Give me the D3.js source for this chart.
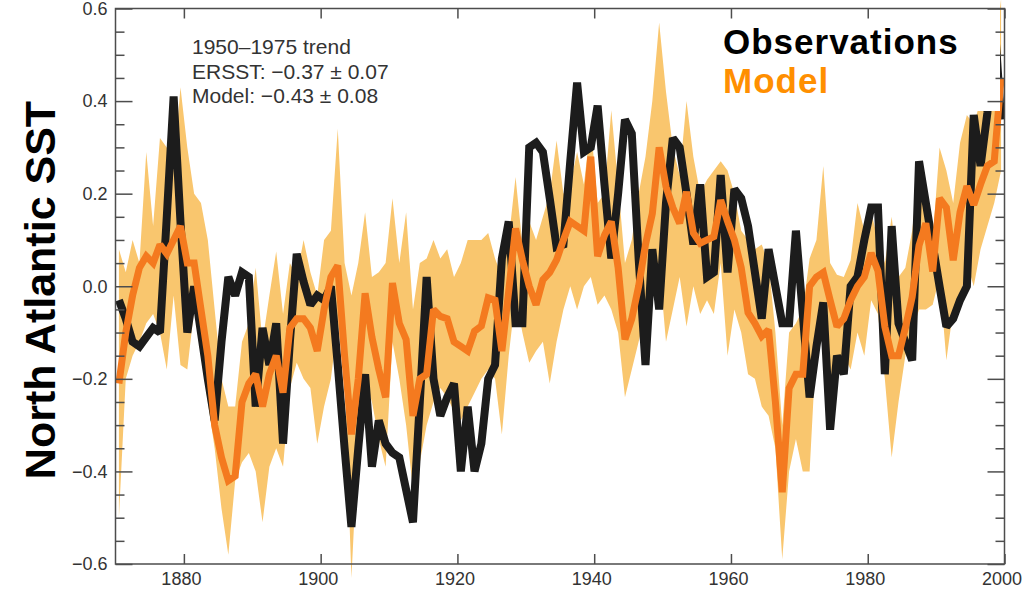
<!DOCTYPE html>
<html>
<head>
<meta charset="utf-8">
<script src="https://cdn.jsdelivr.net/npm/d3@7"></script>
<style>
  html, body { margin: 0; padding: 0; background: #fff; }
  svg { display: block; font-family: "Liberation Sans", Arial, Helvetica, sans-serif; }
</style>
</head>
<body>
<svg id="chart" width="1023" height="594"></svg>
<script>
// Annual North Atlantic SST anomalies, 1870-1999
const years = d3.range(1870, 2000);

// ERSST observations
const observed = [
  -0.03, -0.07, -0.12, -0.13, -0.11, -0.09, -0.10, 0.15, 0.41, 0.14,
  -0.10, 0.00, -0.10, -0.20, -0.29, -0.12, 0.02, -0.02, 0.03, 0.02,
  -0.26, -0.09, -0.17, -0.08, -0.34, -0.12, 0.07, 0.01, -0.04, -0.02,
  -0.03, 0.00, -0.17, -0.35, -0.52, -0.35, -0.19, -0.39, -0.29, -0.34,
  -0.36, -0.37, -0.44, -0.51, -0.25, 0.02, -0.20, -0.28, -0.24, -0.21,
  -0.40, -0.26, -0.40, -0.34, -0.20, -0.17, 0.06, 0.14, -0.08, -0.08,
  0.30, 0.31, 0.29, 0.19, 0.085, 0.09, 0.27, 0.44, 0.29, 0.30,
  0.39, 0.22, 0.06, 0.20, 0.36, 0.33, 0.06, -0.17, 0.08, -0.05,
  0.18, 0.32, 0.30, 0.20, 0.09, 0.22, 0.02, 0.03, 0.24, 0.03,
  0.21, 0.19, 0.13, 0.03, -0.07, 0.08, 0.00, -0.08, -0.08, 0.12,
  -0.06, -0.24, -0.13, -0.035, -0.31, -0.15, -0.19, 0.00, 0.02, 0.10,
  0.17, 0.17, -0.19, 0.13, -0.08, -0.12, -0.16, 0.27, 0.18, 0.09,
  0.00, -0.087, -0.07, -0.03, 0.00, 0.37, 0.26, 0.375, 0.58, 0.36
];

// Model ensemble mean
const modelMean = [
  -0.21, -0.10, -0.02, 0.04, 0.065, 0.05, 0.09, 0.07, 0.10, 0.13,
  0.05, 0.05, -0.05, -0.15, -0.30, -0.37, -0.42, -0.41, -0.25, -0.21,
  -0.19, -0.26, -0.19, -0.15, -0.23, -0.09, -0.07, -0.07, -0.09, -0.14,
  -0.05, 0.02, 0.045, -0.15, -0.32, -0.20, -0.015, -0.11, -0.18, -0.24,
  0.007, -0.08, -0.115, -0.28, -0.20, -0.19, -0.05, -0.065, -0.07, -0.12,
  -0.13, -0.14, -0.097, -0.086, -0.025, -0.03, -0.14, -0.01, 0.125, 0.057,
  0.00, -0.04, 0.014, 0.03, 0.057, 0.10, 0.14, 0.13, 0.12, 0.28,
  0.065, 0.11, 0.14, 0.04, -0.115, -0.07, 0.00, 0.09, 0.157, 0.30,
  0.215, 0.17, 0.136, 0.204, 0.115, 0.093, 0.10, 0.107, 0.186, 0.14,
  0.10, 0.04, -0.057, -0.08, -0.108, -0.094, -0.25, -0.445, -0.22, -0.19,
  -0.19, 0.00, 0.02, 0.03, -0.03, -0.087, -0.07, -0.03, 0.00, 0.02,
  0.072, 0.033, -0.087, -0.15, -0.15, -0.09, -0.023, 0.088, 0.136, 0.032,
  0.19, 0.17, 0.056, 0.16, 0.216, 0.176, 0.22, 0.26, 0.27, 0.45
];

// Model ensemble spread (upper and lower bounds)
const modelHigh = [
  0.08, 0.03, 0.10, 0.05, 0.29, 0.13, 0.32, 0.30, 0.25, 0.43,
  0.30, 0.20, 0.18, 0.10, -0.05, -0.20, -0.26, -0.26, -0.12, -0.08,
  0.04, -0.12, -0.02, 0.075, -0.06, 0.05, 0.02, 0.10, 0.03, -0.02,
  0.10, 0.12, 0.34, 0.05, -0.02, 0.05, 0.16, 0.02, 0.03, 0.05,
  0.19, 0.05, 0.16, -0.05, 0.05, 0.06, 0.10, 0.06, 0.08, 0.02,
  0.05, 0.10, 0.10, 0.10, 0.115, 0.06, 0.02, 0.10, 0.236, 0.09,
  0.14, 0.10, 0.15, 0.20, 0.315, 0.20, 0.22, 0.29, 0.22, 0.35,
  0.18, 0.20, 0.38, 0.22, 0.05, 0.10, 0.20, 0.28, 0.40, 0.57,
  0.42, 0.30, 0.24, 0.40, 0.28, 0.20, 0.23, 0.25, 0.27, 0.25,
  0.20, 0.12, 0.10, 0.08, 0.09, 0.05, -0.10, -0.30, -0.10, -0.08,
  -0.05, 0.06, 0.10, 0.26, 0.05, 0.025, 0.02, 0.056, 0.18, 0.12,
  0.16, 0.10, 0.05, 0.15, 0.02, 0.04, 0.12, 0.255, 0.22, 0.10,
  0.30, 0.25, 0.18, 0.31, 0.37, 0.35, 0.40, 0.45, 0.50, 0.62
];
const modelLow = [
  -0.50, -0.20, -0.15, -0.12, -0.08, -0.06, -0.10, -0.18, -0.02, -0.17,
  -0.18, -0.05, -0.15, -0.25, -0.35, -0.48, -0.58, -0.42, -0.38, -0.36,
  -0.40, -0.51, -0.39, -0.35, -0.39, -0.22, -0.165, -0.20, -0.22, -0.34,
  -0.26, -0.20, -0.08, -0.20, -0.63, -0.33, -0.20, -0.25, -0.33, -0.39,
  -0.12, -0.20, -0.30, -0.44, -0.38, -0.30, -0.25, -0.22, -0.24, -0.27,
  -0.29, -0.26, -0.23, -0.20, -0.18, -0.20, -0.32, -0.15, -0.02, -0.10,
  -0.165, -0.14, -0.12, -0.21, -0.12, -0.05, 0.00, -0.05, 0.00, 0.02,
  -0.04, -0.02, -0.05, -0.10, -0.24, -0.18, -0.12, -0.06, 0.02, 0.05,
  -0.12, -0.05, 0.02, -0.087, 0.00, -0.06, -0.03, -0.06, 0.05, -0.15,
  -0.05, -0.10, -0.19, -0.20, -0.26, -0.28, -0.35, -0.59, -0.40, -0.33,
  -0.40, -0.40, -0.12, -0.10, -0.23, -0.20, -0.15, -0.18, -0.10, -0.15,
  -0.03, -0.06, -0.20, -0.37, -0.25, -0.15, -0.10, -0.05, -0.05, -0.04,
  0.02, -0.16, -0.05, -0.03, 0.05, 0.00, 0.08, 0.13, 0.18, 0.25
];

// Axis ticks
const xTickYears = [1880, 1900, 1920, 1940, 1960, 1980, 2000];
const yMajorTicks = [-0.6, -0.4, -0.2, 0.0, 0.2, 0.4, 0.6];
const yMinorTicks = [-0.55, -0.5, -0.45, -0.35, -0.3, -0.25, -0.15, -0.1, -0.05,
                     0.05, 0.1, 0.15, 0.25, 0.3, 0.35, 0.45, 0.5, 0.55];

// Text
const yTitle = "North Atlantic SST";
const noteLines = ["1950\u20131975 trend", "ERSST: \u22120.37 \u00b1 0.07", "Model: \u22120.43 \u00b1 0.08"];
const legendItems = [
  { label: "Observations", color: "#000000" },
  { label: "Model", color: "#ff8f00" }
];

const colors = { band: "#f9c66e", model: "#f47a1f", obs: "#1c1c1c", frame: "#4d4d4d", text: "#333333" };

const svg = d3.select("#chart");
const plotLeft = 115.5, plotRight = 1004.5, plotTop = 8.5, plotBottom = 564;

const x = d3.scaleLinear().domain([1870, 2000]).range([plotLeft, plotRight]);
const y = d3.scaleLinear().domain([-0.6, 0.6]).range([plotBottom, plotTop]);

const rows = years.map((yr, i) => ({
  t: yr + 0.5, obs: observed[i], mean: modelMean[i], hi: modelHigh[i], lo: modelLow[i]
}));

// Ensemble spread
svg.append("path")
  .datum(rows)
  .attr("fill", colors.band)
  .attr("d", d3.area().x(d => x(d.t)).y0(d => y(d.lo)).y1(d => y(d.hi)));

// Observations
svg.append("path")
  .datum(rows)
  .attr("fill", "none")
  .attr("stroke", colors.obs)
  .attr("stroke-width", 8)
  .attr("stroke-linejoin", "miter")
  .attr("stroke-miterlimit", 2)
  .attr("d", d3.line().x(d => x(d.t)).y(d => y(d.obs)));

// Model mean
svg.append("path")
  .datum(rows)
  .attr("fill", "none")
  .attr("stroke", colors.model)
  .attr("stroke-width", 7)
  .attr("stroke-linejoin", "miter")
  .attr("stroke-miterlimit", 2)
  .attr("d", d3.line().x(d => x(d.t)).y(d => y(d.mean)));

// Legend panel
svg.append("rect")
  .attr("x", 705).attr("y", 10).attr("width", 295).attr("height", 101)
  .attr("fill", "#ffffff");

svg.append("g").selectAll("text")
  .data(legendItems)
  .join("text")
  .attr("x", 723)
  .attr("y", (d, i) => 53.5 + i * 39.5)
  .attr("font-size", 35).attr("font-weight", "bold")
  .attr("letter-spacing", 1)
  .attr("fill", d => d.color)
  .text(d => d.label);

// Frame
svg.append("rect")
  .attr("x", plotLeft).attr("y", plotTop)
  .attr("width", plotRight - plotLeft).attr("height", plotBottom - plotTop)
  .attr("fill", "none").attr("stroke", colors.frame).attr("stroke-width", 1.5);

function styleAxis(g) {
  g.select(".domain").remove();
  g.selectAll(".tick line").attr("stroke", colors.frame).attr("stroke-width", 1.5);
  g.selectAll(".tick text").attr("fill", colors.text).attr("font-size", 18)
    .attr("font-family", "'Liberation Sans', Arial, Helvetica, sans-serif");
}

const fmtY = v => (v < 0 ? "\u2212" : "") + Math.abs(v).toFixed(1);

// Left axis (labelled) with inward ticks
svg.append("g").attr("transform", `translate(${plotLeft},0)`)
  .call(d3.axisLeft(y).tickValues(yMajorTicks).tickSize(-17).tickPadding(8).tickFormat(fmtY))
  .call(styleAxis);
svg.append("g").attr("transform", `translate(${plotLeft},0)`)
  .call(d3.axisLeft(y).tickValues(yMinorTicks).tickSize(-9).tickFormat(""))
  .call(styleAxis);

// Right axis ticks
svg.append("g").attr("transform", `translate(${plotRight},0)`)
  .call(d3.axisRight(y).tickValues(yMajorTicks).tickSize(-17).tickFormat(""))
  .call(styleAxis);
svg.append("g").attr("transform", `translate(${plotRight},0)`)
  .call(d3.axisRight(y).tickValues(yMinorTicks).tickSize(-9).tickFormat(""))
  .call(styleAxis);

// Bottom axis (labelled) and top ticks
svg.append("g").attr("transform", `translate(0,${plotBottom})`)
  .call(d3.axisBottom(x).tickValues(xTickYears).tickSize(-10).tickPadding(8).tickFormat(d3.format("d")))
  .call(styleAxis)
  .call(g => g.selectAll(".tick text").attr("dx", -3));
svg.append("g").attr("transform", `translate(0,${plotTop})`)
  .call(d3.axisTop(x).tickValues(xTickYears).tickSize(-10).tickFormat(""))
  .call(styleAxis);

// Trend note
svg.append("g").selectAll("text")
  .data(noteLines)
  .join("text")
  .attr("x", 192).attr("y", (d, i) => 54 + i * 24.5)
  .attr("font-size", 21).attr("fill", colors.text)
  .text(d => d);

// Y title
svg.append("text")
  .attr("transform", "translate(55,290) rotate(-90)")
  .attr("text-anchor", "middle")
  .attr("font-size", 43).attr("font-weight", "bold").attr("fill", "#000")
  .text(yTitle);
</script>
</body>
</html>
